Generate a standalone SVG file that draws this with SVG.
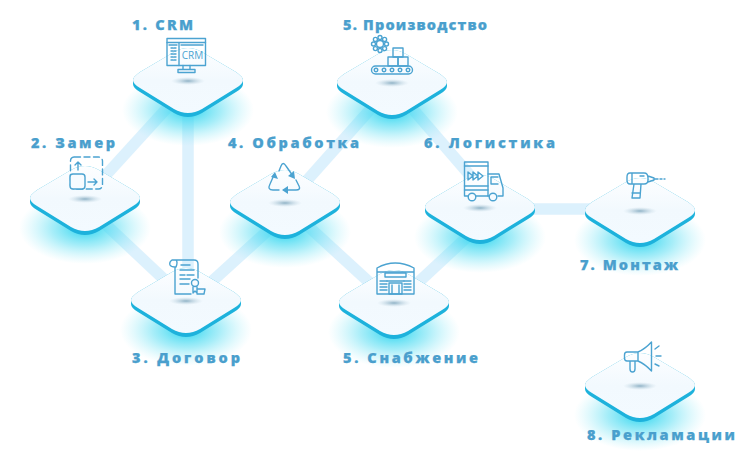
<svg xmlns="http://www.w3.org/2000/svg" width="754" height="461" viewBox="0 0 754 461">
<style>
.lbl{font-family:"Open Sans","Liberation Sans",sans-serif;font-weight:800;font-size:14.500px;fill:#4a9fcd;stroke:#4a9fcd;stroke-width:.25px}
.ic{fill:none;stroke:#4ba3d1;stroke-width:1.4;stroke-linejoin:round;stroke-linecap:round}
.icf{fill:#f6fbff;stroke:#4ba3d1;stroke-width:1.4;stroke-linejoin:round}
.cn{stroke:#dcf1fd;stroke-width:11.500;fill:none}
.fa{fill:#4ba3d1}
</style>
<defs>
<radialGradient id="glow"><stop offset="0" stop-color="#1fd3ee" stop-opacity=".95"/><stop offset=".5" stop-color="#4fdcf2" stop-opacity=".5"/><stop offset="1" stop-color="#8fe9f8" stop-opacity="0"/></radialGradient>
<radialGradient id="sh"><stop offset="0" stop-color="#8fb2c6"/><stop offset="1" stop-color="#c8dbe6" stop-opacity="0"/></radialGradient>
<linearGradient id="top" x1="0" y1="0" x2="0" y2="1"><stop offset="0" stop-color="#fdfeff"/><stop offset=".5" stop-color="#f2f9fe"/><stop offset="1" stop-color="#f3faff"/></linearGradient>
<g id="plate">
<ellipse cx="0" cy="30" rx="66" ry="36" fill="url(#glow)"/>
<path d="M-14,-28Q0,-36 14,-28L48,-8Q55,-3 55,0V4Q55,8 48,12L14,33Q0,41 -14,33L-48,12Q-55,8 -55,4V0Q-55,-3 -48,-8Z" fill="#1db2dc"/>
<path d="M-14,-28Q0,-36 14,-28L48,-8Q55,-3 55,0Q55,4 48,8L14,29Q0,37 -14,29L-48,8Q-55,4 -55,0Q-55,-3 -48,-8Z" fill="url(#top)"/>
<ellipse cx="0" cy="1" rx="17" ry="4" fill="url(#sh)"/>
</g>
</defs>
<g id="connectors" class="cn">
<path d="M188,85L85,198"/><path d="M188,82V300"/><path d="M85,205L186,300"/><path d="M186,305L285,215"/><path d="M285,205L392,85"/><path d="M285,205L394,305"/><path d="M392,85L480,187"/><path d="M480,225L394,305"/><path d="M480,209H640"/>
</g>

<g id="node-crm"><use href="#plate" x="188" y="80"/>
<rect class="ic" x="167" y="38.500" width="38.500" height="27"/><path class="ic" d="M167,42.500H205.500M179,42.500V65.500M169,45H177M181,45H203M183,69.500V65.500M190,65.500V69.500M178,72.500H195V69.500H178Z"/>
<path class="ic" d="M171,48H177M171,51H177M171,54H177M171,57H177M171,60H177" stroke-dasharray="2 1"/>
<text x="192.500" y="58.500" text-anchor="middle" font-family="'Open Sans','Liberation Sans',sans-serif" font-size="10" fill="#4ba3d1">CRM</text>
<text class="lbl" x="132" y="30" textLength="61">1. CRM</text></g>

<g id="node-zamer"><use href="#plate" x="85" y="198"/>
<rect class="ic" x="70.500" y="157" width="32" height="32" rx="4" stroke-dasharray="6 3.500"/>
<rect class="icf" x="70" y="174" width="15" height="15" rx="3"/>
<path class="ic" d="M78,170V162M75,165L78,162L81,165M88,182H97M94,179L97,182L94,185"/>
<text class="lbl" x="31" y="148" textLength="84">2. Замер</text></g>

<g id="node-dogovor"><use href="#plate" x="186" y="300"/>
<path class="ic" d="M172,260H194Q198,260 198,264V278M172,260Q169,262 170,265Q171,267 175,267V294H191M175,267H176M176,260Q178,262 176,267"/>
<path class="ic" d="M181,265H190M180,270H194M180,275H185M187,275H194M180,279H190M180,284H189"/>
<circle class="ic" cx="195" cy="283" r="3.500"/><path class="ic" d="M193,287V293L195,291L197,293V287M198,289H205L204,294H197"/>
<text class="lbl" x="132" y="363" textLength="108">3. Договор</text></g>

<g id="node-obrabotka"><use href="#plate" x="285" y="202"/>
<path class="ic" d="M279,190H273Q267,190 270,184L274,175M279,171L281,166Q283,161 286,166L293,176M296,180L299,186Q301,190 296,190H284"/>
<path class="fa" d="M275,172L278,179L271,177ZM295,179L288,176L294,171ZM282,190L288,186V194Z"/>
<text class="lbl" x="228" y="148" textLength="131">4. Обработка</text></g>

<g id="node-proizv"><use href="#plate" x="392" y="82"/>
<circle class="ic" cx="380" cy="44" r="3.500"/>
<g class="ic"><circle cx="386.500" cy="44" r="2"/><circle cx="384.600" cy="48.600" r="2"/><circle cx="380" cy="50.500" r="2"/><circle cx="375.400" cy="48.600" r="2"/><circle cx="373.500" cy="44" r="2"/><circle cx="375.400" cy="39.400" r="2"/><circle cx="380" cy="37.500" r="2"/><circle cx="384.600" cy="39.400" r="2"/></g>
<rect class="ic" x="393" y="48" width="10" height="9"/><rect class="ic" x="388" y="57" width="10" height="9"/><rect class="ic" x="398" y="57" width="10" height="9"/>
<rect class="ic" x="371.500" y="66" width="41" height="8" rx="4"/>
<g class="ic"><circle cx="376" cy="70" r="1.800"/><circle cx="384" cy="70" r="1.800"/><circle cx="392" cy="70" r="1.800"/><circle cx="400" cy="70" r="1.800"/><circle cx="408" cy="70" r="1.800"/></g>
<text class="lbl" x="343" y="30" textLength="144">5. Производство</text></g>

<g id="node-logistika"><use href="#plate" x="480" y="207"/>
<rect class="ic" x="464.500" y="162" width="23.500" height="34"/><path class="ic" d="M464.500,166H488M464.500,186H488M464.500,190H488M488,174H499L503,188V196H498M488,196H489M498,177H491V184H498"/>
<path class="ic" d="M468,172V180L473,176ZM473,172V180L478,176ZM478,172V180L483,176Z"/>
<circle class="icf" cx="472" cy="197" r="3.800"/><circle class="icf" cx="493" cy="197" r="3.800"/>
<text class="lbl" x="424" y="148" textLength="131">6. Логистика</text></g>

<g id="node-montazh"><use href="#plate" x="640" y="210"/>
<path class="ic" d="M630,173H644Q648,173 648,178V180Q648,184 644,184H630Q627,184 627,180V177Q627,173 630,173ZM632,173V184M640,176H644M648,176L654,178V180L648,182M654,179H658M660,179H662M664,179H665M634,184L632,198H640L641,184M632,193H640"/>
<text class="lbl" x="580" y="270" textLength="98">7. Монтаж</text></g>

<g id="node-snabzh"><use href="#plate" x="394" y="302"/>
<path class="ic" d="M377,268Q395,258 414,268V294H377ZM377,272H414"/>
<path class="ic" d="M385,273H406V277H385ZM389,283H402V294H389ZM392,285V294H399V285M387,281H404"/>
<path class="ic" d="M380,281H387M380,284H387M380,287H387M380,290H387M404,281H411M404,284H411M404,287H411M404,290H411"/>
<text class="lbl" x="343" y="363" textLength="135">5. Снабжение</text></g>

<g id="node-rekl"><use href="#plate" x="640" y="385"/>
<path class="ic" d="M651.500,342V371Q645,364 638,361H627Q624.500,361 624.500,358V355Q624.500,352 627,352H638Q645,349 651.500,342ZM630,361V369Q630,372 632.500,372Q635,372 635,369V361M638,352V361"/>
<path class="ic" d="M655,349L659,346M656,356H661M655,364L659,366"/>
<text class="lbl" x="587" y="440" textLength="148">8. Рекламации</text></g>
</svg>
